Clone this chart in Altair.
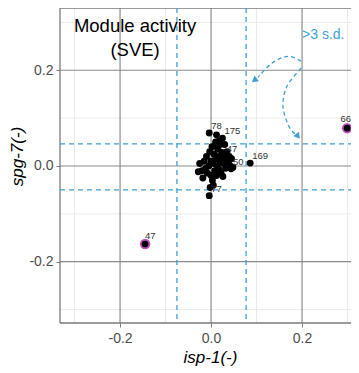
import altair as alt
import pandas as pd

# ---- data ----
x_major = [-0.2, 0.0, 0.2]
x_minor = [-0.3, -0.1, 0.1, 0.3]
y_major = [-0.2, 0.0, 0.2]
y_minor = [-0.3, -0.1, 0.1, 0.3]
x_thr = [-0.075, 0.077]
y_thr = [-0.05, 0.046]

cluster_x = [-0.025, -0.02, -0.015, -0.012, -0.01, -0.008, -0.005, -0.003, 0.0, 0.0,
             0.002, 0.003, 0.005, 0.006, 0.008, 0.01, 0.01, 0.012, 0.014, 0.015,
             0.017, 0.018, 0.02, 0.02, 0.022, 0.024, 0.027, 0.03, 0.032, 0.035,
             0.036, 0.04, 0.042, 0.045, 0.048, 0.012, 0.005, -0.002, 0.018, 0.03,
             -0.028, -0.018, 0.008, 0.026, 0.038]
cluster_y = [0.005, -0.01, 0.01, -0.005, 0.02, -0.015, 0.0, 0.03, -0.02, 0.01,
             0.04, -0.03, 0.005, 0.025, -0.01, 0.015, 0.05, -0.02, 0.0, 0.035,
             0.02, -0.008, 0.045, 0.01, -0.015, 0.028, 0.005, 0.018, -0.005, 0.03,
             0.01, 0.02, 0.0, 0.015, -0.003, 0.065, -0.04, -0.045, 0.052, 0.045,
             -0.012, -0.025, 0.042, -0.022, 0.008]

lab_ids = ["78", "175", "169", "77", "50", "47"]
lab_x = [-0.004, 0.025, 0.086, -0.004, 0.044, 0.03]
lab_y = [0.069, 0.058, 0.006, -0.062, -0.006, 0.02]

hi_ids = ["66", "47"]
hi_x = [0.299, -0.145]
hi_y = [0.079, -0.163]

title_lines = ["Module activity", "(SVE)"]
title_x = [-0.167, -0.167]
title_y = [0.279, 0.229]

sd_text = [">3 s.d."]
sd_x = [0.2]
sd_y = [0.265]

arc1_x = [0.198, 0.169, 0.134, 0.103]
arc1_y = [0.219, 0.229, 0.215, 0.185]
arc2_x = [0.198, 0.167, 0.158, 0.171, 0.187]
arc2_y = [0.204, 0.167, 0.125, 0.083, 0.065]
head_x = [0.095, 0.191]
head_y = [0.179, 0.062]
head_angle = [233, 143]

x_dom = [-0.332, 0.29]
x_line_end = 0.327          # horizontal lines run on to the window's right edge
y_dom = [-0.328, 0.33]

BLUE = "#3f9fd4"
FONT = "Liberation Sans"
FRAME = "#7a7a7a"

xs = alt.Scale(domain=x_dom, nice=False, zero=False)
ys = alt.Scale(domain=y_dom, nice=False, zero=False)
lab_expr = "datum.value < 0 ? '-' + format(-datum.value, '.1f') : format(datum.value, '.1f')"
xaxis = alt.Axis(values=x_major, labelExpr=lab_expr, grid=False, domain=False,
                 title="isp-1(-)", titleFontStyle="italic", titleFontSize=17,
                 titleFontWeight="normal", titleColor="black", titlePadding=4,
                 titleX=150,
                 labelFontSize=14, labelColor="#4d4d4d", labelPadding=4,
                 tickColor=FRAME, tickSize=4)
yaxis = alt.Axis(values=y_major, labelExpr=lab_expr, grid=False, domain=False,
                 title="spg-7(-)", titleFontStyle="italic", titleFontSize=17,
                 titleFontWeight="normal", titleColor="black", titlePadding=2,
                 titleY=148,
                 labelFontSize=14, labelColor="#4d4d4d", labelPadding=3,
                 tickColor=FRAME, tickSize=4)

def X(field="x"):
    return alt.X(f"{field}:Q", scale=xs, axis=xaxis)

def Y(field="y"):
    return alt.Y(f"{field}:Q", scale=ys, axis=yaxis)

def hrules(yvals, **style):
    df = pd.DataFrame({"y": yvals, "x0": [x_dom[0]] * len(yvals), "x1": [x_line_end] * len(yvals)})
    return alt.Chart(df).mark_rule(**style).encode(y=Y(), x=X("x0"), x2="x1")

minor_v = alt.Chart(pd.DataFrame({"x": x_minor})).mark_rule(color="#ebebeb", strokeWidth=1).encode(x=X())
minor_h = hrules(y_minor, color="#ebebeb", strokeWidth=1)
major_v = alt.Chart(pd.DataFrame({"x": x_major})).mark_rule(color="#8c8c8c", strokeWidth=1.2).encode(x=X())
major_h = hrules(y_major, color="#8c8c8c", strokeWidth=1.2)
thr_v = alt.Chart(pd.DataFrame({"x": x_thr})).mark_rule(color=BLUE, strokeWidth=1.3, strokeDash=[5, 4]).encode(x=X())
thr_h = hrules(y_thr, color=BLUE, strokeWidth=1.3, strokeDash=[5, 4])

# frame: left, top, bottom (right edge is cut off in the reference)
frame_v = alt.Chart(pd.DataFrame({"x": [x_dom[0]]})).mark_rule(color=FRAME, strokeWidth=1.3).encode(x=X())
frame_h = hrules(y_dom, color=FRAME, strokeWidth=1.3)

all_x = cluster_x + lab_x
all_y = cluster_y + lab_y
pts = alt.Chart(pd.DataFrame({"x": all_x, "y": all_y})).mark_circle(
    color="black", opacity=1, size=48).encode(x=X(), y=Y())

labs = alt.Chart(pd.DataFrame({"x": lab_x, "y": lab_y, "t": lab_ids})).mark_text(
    align="left", baseline="bottom", dx=2, dy=-2, fontSize=9.5, font=FONT, color="#333"
).encode(x=X(), y=Y(), text="t:N")

hi_df = pd.DataFrame({"x": hi_x, "y": hi_y, "t": hi_ids})
hi_ring = alt.Chart(hi_df).mark_circle(color="#b832b0", opacity=0.85, size=110).encode(x=X(), y=Y())
hi_pts = alt.Chart(hi_df).mark_circle(color="black", opacity=1, size=45).encode(x=X(), y=Y())
hi_lab_right = alt.Chart(hi_df.iloc[[0]]).mark_text(
    align="right", baseline="bottom", dx=4, dy=-4, fontSize=9.5, font=FONT, color="#333"
).encode(x=X(), y=Y(), text="t:N")
hi_lab_left = alt.Chart(hi_df.iloc[[1]]).mark_text(
    align="left", baseline="bottom", dx=0, dy=-3, fontSize=9.5, font=FONT, color="#333"
).encode(x=X(), y=Y(), text="t:N")

ttl = alt.Chart(pd.DataFrame({"x": title_x, "y": title_y, "t": title_lines})).mark_text(
    align="center", baseline="alphabetic", fontSize=18.5, font=FONT, color="black"
).encode(x=X(), y=Y(), text="t:N")

sd = alt.Chart(pd.DataFrame({"x": sd_x, "y": sd_y, "t": sd_text})).mark_text(
    align="left", baseline="alphabetic", fontSize=14, font=FONT, color=BLUE
).encode(x=X(), y=Y(), text="t:N")

arc1 = alt.Chart(pd.DataFrame({"x": arc1_x, "y": arc1_y, "o": list(range(len(arc1_x)))})).mark_line(
    color=BLUE, strokeWidth=1.3, strokeDash=[4, 3], interpolate="cardinal"
).encode(x=X(), y=Y(), order="o:Q")
arc2 = alt.Chart(pd.DataFrame({"x": arc2_x, "y": arc2_y, "o": list(range(len(arc2_x)))})).mark_line(
    color=BLUE, strokeWidth=1.3, strokeDash=[4, 3], interpolate="cardinal"
).encode(x=X(), y=Y(), order="o:Q")
heads = alt.Chart(pd.DataFrame({"x": head_x, "y": head_y, "a": head_angle})).mark_point(
    shape="triangle-up", filled=True, color=BLUE, opacity=1, size=50
).encode(x=X(), y=Y(), angle=alt.Angle("a:Q", scale=None))

chart = alt.layer(
    minor_v, minor_h, major_v, major_h, frame_v, frame_h, thr_v, thr_h,
    pts, labs, hi_ring, hi_pts, hi_lab_right, hi_lab_left, ttl, sd, arc1, arc2, heads
).properties(
    width=283, height=315,
    autosize=alt.AutoSizeParams(type="none"),
    padding={"left": 52, "top": 0, "right": 8, "bottom": 50},
).configure_view(stroke=None).configure_axis(
    labelFont=FONT, titleFont=FONT
)

chart.save("out.html", embed_options={"renderer": "svg", "actions": False})
